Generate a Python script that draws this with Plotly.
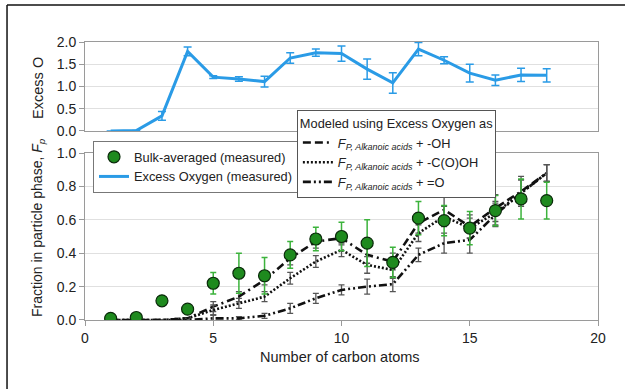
import plotly.graph_objects as go

carbon = list(range(1, 19))

excess_o = [0.0, 0.01, 0.34, 1.79, 1.21, 1.17, 1.11, 1.64, 1.76, 1.74, 1.39, 1.08, 1.84, 1.59, 1.30, 1.14, 1.26, 1.25]
excess_o_err = [0.0, 0.0, 0.1, 0.1, 0.03, 0.05, 0.12, 0.12, 0.08, 0.17, 0.23, 0.23, 0.15, 0.08, 0.2, 0.12, 0.15, 0.15]

bulk = [0.01, 0.015, 0.115, 0.065, 0.22, 0.28, 0.265, 0.39, 0.485, 0.50, 0.46, 0.345, 0.61, 0.595, 0.55, 0.655, 0.725, 0.715]
bulk_err = [0, 0, 0, 0, 0.065, 0.12, 0.11, 0.08, 0.07, 0.085, 0.14, 0.09, 0.1, 0.09, 0.1, 0.09, 0.12, 0.11]

model_oh = [0.0, 0.0, 0.0, 0.01, 0.08, 0.14, 0.24, 0.37, 0.47, 0.49, 0.39, 0.35, 0.58, 0.66, 0.56, 0.67, 0.77, 0.88]
model_oh_err = [0, 0, 0, 0, 0.03, 0.03, 0.03, 0.04, 0.04, 0.04, 0.05, 0.05, 0.06, 0.08, 0.07, 0.08, 0.09, 0.05]
model_cooh = [0.0, 0.0, 0.0, 0.01, 0.06, 0.10, 0.14, 0.25, 0.35, 0.42, 0.33, 0.30, 0.52, 0.62, 0.55, 0.64, 0.76, 0.88]
model_cooh_err = [0, 0, 0, 0, 0.03, 0.03, 0.03, 0.035, 0.035, 0.04, 0.05, 0.05, 0.05, 0.06, 0.06, 0.07, 0.08, 0.05]
model_ket = [0.0, 0.0, 0.0, 0.0, 0.01, 0.01, 0.025, 0.07, 0.13, 0.18, 0.20, 0.215, 0.39, 0.46, 0.48, 0.63, 0.76, 0.88]
model_ket_err = [0, 0, 0, 0, 0.02, 0.01, 0.015, 0.03, 0.03, 0.03, 0.045, 0.045, 0.04, 0.06, 0.08, 0.07, 0.08, 0.05]

x_ticks = [0, 5, 10, 15, 20]
FONT = "Liberation Sans, Arial, sans-serif"
SUB = "<i>F</i><sub><i>P, Alkanoic acids</i></sub>"

fig = go.Figure()

def model_trace(y, err, dash, label):
    return go.Scatter(
        x=carbon, y=y, mode="lines", name=SUB + " + " + label,
        line=dict(color="#111", width=2.6, dash=dash),
        error_y=dict(type="data", array=err, visible=True, color="#555", thickness=1.3, width=3),
        xaxis="x", yaxis="y", legend="legend2",
    )

fig.add_trace(model_trace(model_oh, model_oh_err, "8px,4px,8px,4px,2px,4px", "-OH"))
fig.add_trace(model_trace(model_cooh, model_cooh_err, "2px,2px", "-C(O)OH"))
fig.add_trace(model_trace(model_ket, model_ket_err, "8px,3px,2px,3px,2px,3px", "=O"))

fig.add_trace(go.Scatter(
    x=carbon, y=bulk, mode="markers", name="Bulk-averaged (measured)",
    marker=dict(color="#1e8a1e", size=12, line=dict(color="#0a2a0a", width=1.2)),
    error_y=dict(type="data", array=bulk_err, visible=True, color="#3cb33c", thickness=1.5, width=3),
    xaxis="x", yaxis="y", legend="legend",
))

fig.add_trace(go.Scatter(
    x=carbon, y=excess_o, mode="lines", name="Excess Oxygen (measured)",
    line=dict(color="#2a9be6", width=3),
    error_y=dict(type="data", array=excess_o_err, visible=True, color="#2a9be6", thickness=1.5, width=4),
    xaxis="x2", yaxis="y2", legend="legend",
))

axis_common = dict(showline=True, linecolor="#9a9a9a", linewidth=1, mirror=True,
                   tickfont=dict(family=FONT, size=14, color="#222"), zeroline=False)

fig.update_layout(
    width=625, height=389,
    margin=dict(l=85, r=27, t=42, b=69),
    paper_bgcolor="white", plot_bgcolor="white",
    font=dict(family=FONT, color="#222"),
    xaxis=dict(domain=[0, 1], range=[0, 20], tickvals=x_ticks, ticks="outside", ticklen=5,
               tickcolor="#9a9a9a", showgrid=False, **axis_common),
    yaxis=dict(domain=[0, 0.6007], range=[0, 1], dtick=0.2, tickformat=".1f", ticks="outside",
               ticklen=5, tickcolor="#9a9a9a", showgrid=True, gridcolor="#e0e0e0", **axis_common),
    xaxis2=dict(domain=[0, 1], range=[0, 20], anchor="y2", showticklabels=False, ticks="",
                showgrid=False, **axis_common),
    yaxis2=dict(domain=[0.6799, 1], range=[0, 2], dtick=0.5, tickformat=".1f", anchor="x2",
                ticks="outside", ticklen=5, tickcolor="#9a9a9a", showgrid=True, gridcolor="#e0e0e0",
                **axis_common),
    legend=dict(x=0.0156, y=0.644, xanchor="left", yanchor="top", bgcolor="white",
                bordercolor="#777", borderwidth=1, font=dict(family=FONT, size=12.8, color="#222"),
                tracegroupgap=0, itemwidth=30),
    legend2=dict(x=0.413, y=0.755, xanchor="left", yanchor="top", bgcolor="white",
                 bordercolor="#555", borderwidth=1, font=dict(family=FONT, size=12.8, color="#222"),
                 title=dict(text="Modeled using Excess Oxygen as", side="top",
                            font=dict(family=FONT, size=12.8, color="#222")),
                 tracegroupgap=0, itemwidth=30),
    showlegend=True,
    annotations=[
        dict(text="Excess O", textangle=-90, x=-0.0916, y=0.835, xref="paper", yref="paper",
             xanchor="center", yanchor="middle",
             showarrow=False, font=dict(family=FONT, size=14.5, color="#222")),
        dict(text="Fraction in particle phase, <i>F</i><sub><i>p</i></sub>", textangle=-90,
             x=-0.0916, y=0.331, xref="paper", yref="paper", xanchor="center", yanchor="middle",
             showarrow=False, font=dict(family=FONT, size=14, color="#222")),
        dict(text="Number of carbon atoms", x=0.497, y=-0.133, xref="paper", yref="paper",
             xanchor="center", yanchor="middle",
             showarrow=False, font=dict(family=FONT, size=14.5, color="#222")),
    ],
    shapes=[
        dict(type="line", xref="paper", yref="paper", x0=-0.152, x1=-0.152, y0=1.133, y1=-0.26,
             line=dict(color="#111", width=1.5)),
        dict(type="line", xref="paper", yref="paper", x0=-0.152, x1=1.06, y0=1.133, y1=1.133,
             line=dict(color="#111", width=1.5)),
    ],
)

fig.write_html("out.html")
